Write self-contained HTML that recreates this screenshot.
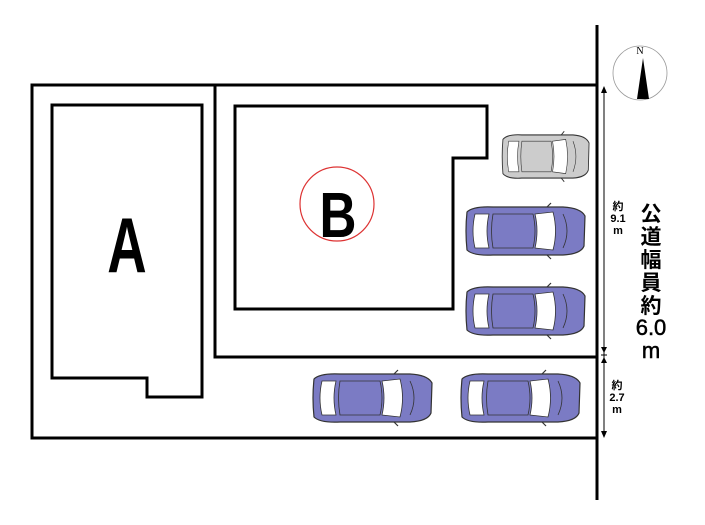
<!DOCTYPE html>
<html><head><meta charset="utf-8"><style>
html,body{margin:0;padding:0;background:#fff;width:705px;height:525px;overflow:hidden}
svg{display:block}
</style></head><body>
<svg width="705" height="525" viewBox="0 0 705 525" xmlns="http://www.w3.org/2000/svg">
<defs>
<g id="car">
  <path d="M4,6 Q2,25 4,44 Q10,50 30,49 L100,49 Q118,48 121,40 L122,10 Q118,2 100,1 L30,1 Q10,0 4,6 Z" stroke="#333" stroke-width="1.2"/>
  <path d="M12,8 Q8,25 12,42 L26,42 Q22,25 26,8 Z" fill="#fff" stroke="#333" stroke-width="0.8"/>
  <path d="M30,8 L70,8 Q74,25 70,42 L30,42 Q27,25 30,8 Z" stroke="#333" stroke-width="0.8"/>
  <path d="M72,8 L90,6 Q95,25 90,44 L72,42 Q76,25 72,8 Z" fill="#fff" stroke="#333" stroke-width="0.8"/>
  <path d="M100,8 Q108,25 100,42" fill="none" stroke="#333" stroke-width="0.8"/>
  <line x1="84" y1="1" x2="88" y2="-3" stroke="#333" stroke-width="1.2"/>
  <line x1="84" y1="49" x2="88" y2="53" stroke="#333" stroke-width="1.2"/>
</g>
</defs>
<g fill="none" stroke="#000" stroke-width="3">
  <rect x="32" y="85" width="565" height="353"/>
  <polyline points="215,85 215,357 597,357"/>
  <polygon points="52,105 202,105 202,397 147,397 147,378 52,378"/>
  <polygon points="235,106 487,106 487,158 453,158 453,309 235,309"/>
</g>
<line x1="597" y1="25" x2="597" y2="500" stroke="#000" stroke-width="3"/>
<g stroke="#000" stroke-width="1">
  <line x1="604" y1="87" x2="604" y2="437"/>
  <line x1="601" y1="355" x2="607" y2="355"/>
</g>
<g fill="#000">
  <polygon points="604,86 601,93 607,93"/>
  <polygon points="604,353 601,347 607,347"/>
  <polygon points="604,357 601,363 607,363"/>
  <polygon points="604,438 601,431 607,431"/>
</g>
<circle cx="337" cy="204" r="37" fill="none" stroke="#d33" stroke-width="1.2"/>
<text x="0" y="0" text-anchor="middle" font-family="Liberation Sans,sans-serif" font-weight="bold" font-size="64" transform="translate(338 237) scale(0.8 1)">B</text>
<text x="0" y="0" text-anchor="middle" font-family="Liberation Sans,sans-serif" font-weight="bold" font-size="78" transform="translate(127 272) scale(0.7 1)">A</text>
<circle cx="640" cy="73" r="27" fill="none" stroke="#999" stroke-width="0.8"/>
<text x="640" y="54" text-anchor="middle" font-family="Liberation Serif,serif" font-size="10">N</text>
<polygon points="643,58 637,99 649,99" fill="#000"/>
<g fill="#ccc"><use href="#car" transform="translate(500,134) scale(0.73,0.9)"/></g>
<g fill="#7b7bc4">
  <use href="#car" transform="translate(463,206)"/>
  <use href="#car" transform="translate(463,286)"/>
  <use href="#car" transform="translate(310,373)"/>
  <use href="#car" transform="translate(458,373)"/>
</g>
<g font-family="Liberation Sans,Noto Sans CJK JP,sans-serif" font-size="11" text-anchor="middle" fill="#000" font-weight="bold">
  <text x="618" y="210">約</text>
  <text x="618" y="222">9.1</text>
  <text x="618" y="234">m</text>
  <text x="617" y="389">約</text>
  <text x="617" y="401">2.7</text>
  <text x="617" y="413">m</text>
</g>
<g font-family="Liberation Sans,Noto Sans CJK JP,sans-serif" font-weight="bold" font-size="21" text-anchor="middle" fill="#000">
  <text x="651" y="221">公</text>
  <text x="651" y="244">道</text>
  <text x="651" y="267">幅</text>
  <text x="651" y="290">員</text>
  <text x="651" y="313">約</text>
</g>
<g font-family="Liberation Sans,sans-serif" font-size="22" text-anchor="middle" fill="#000" stroke="#000" stroke-width="0.5">
  <text x="651" y="335">6.0</text>
  <text x="651" y="358">m</text>
</g>
</svg>
</body></html>
